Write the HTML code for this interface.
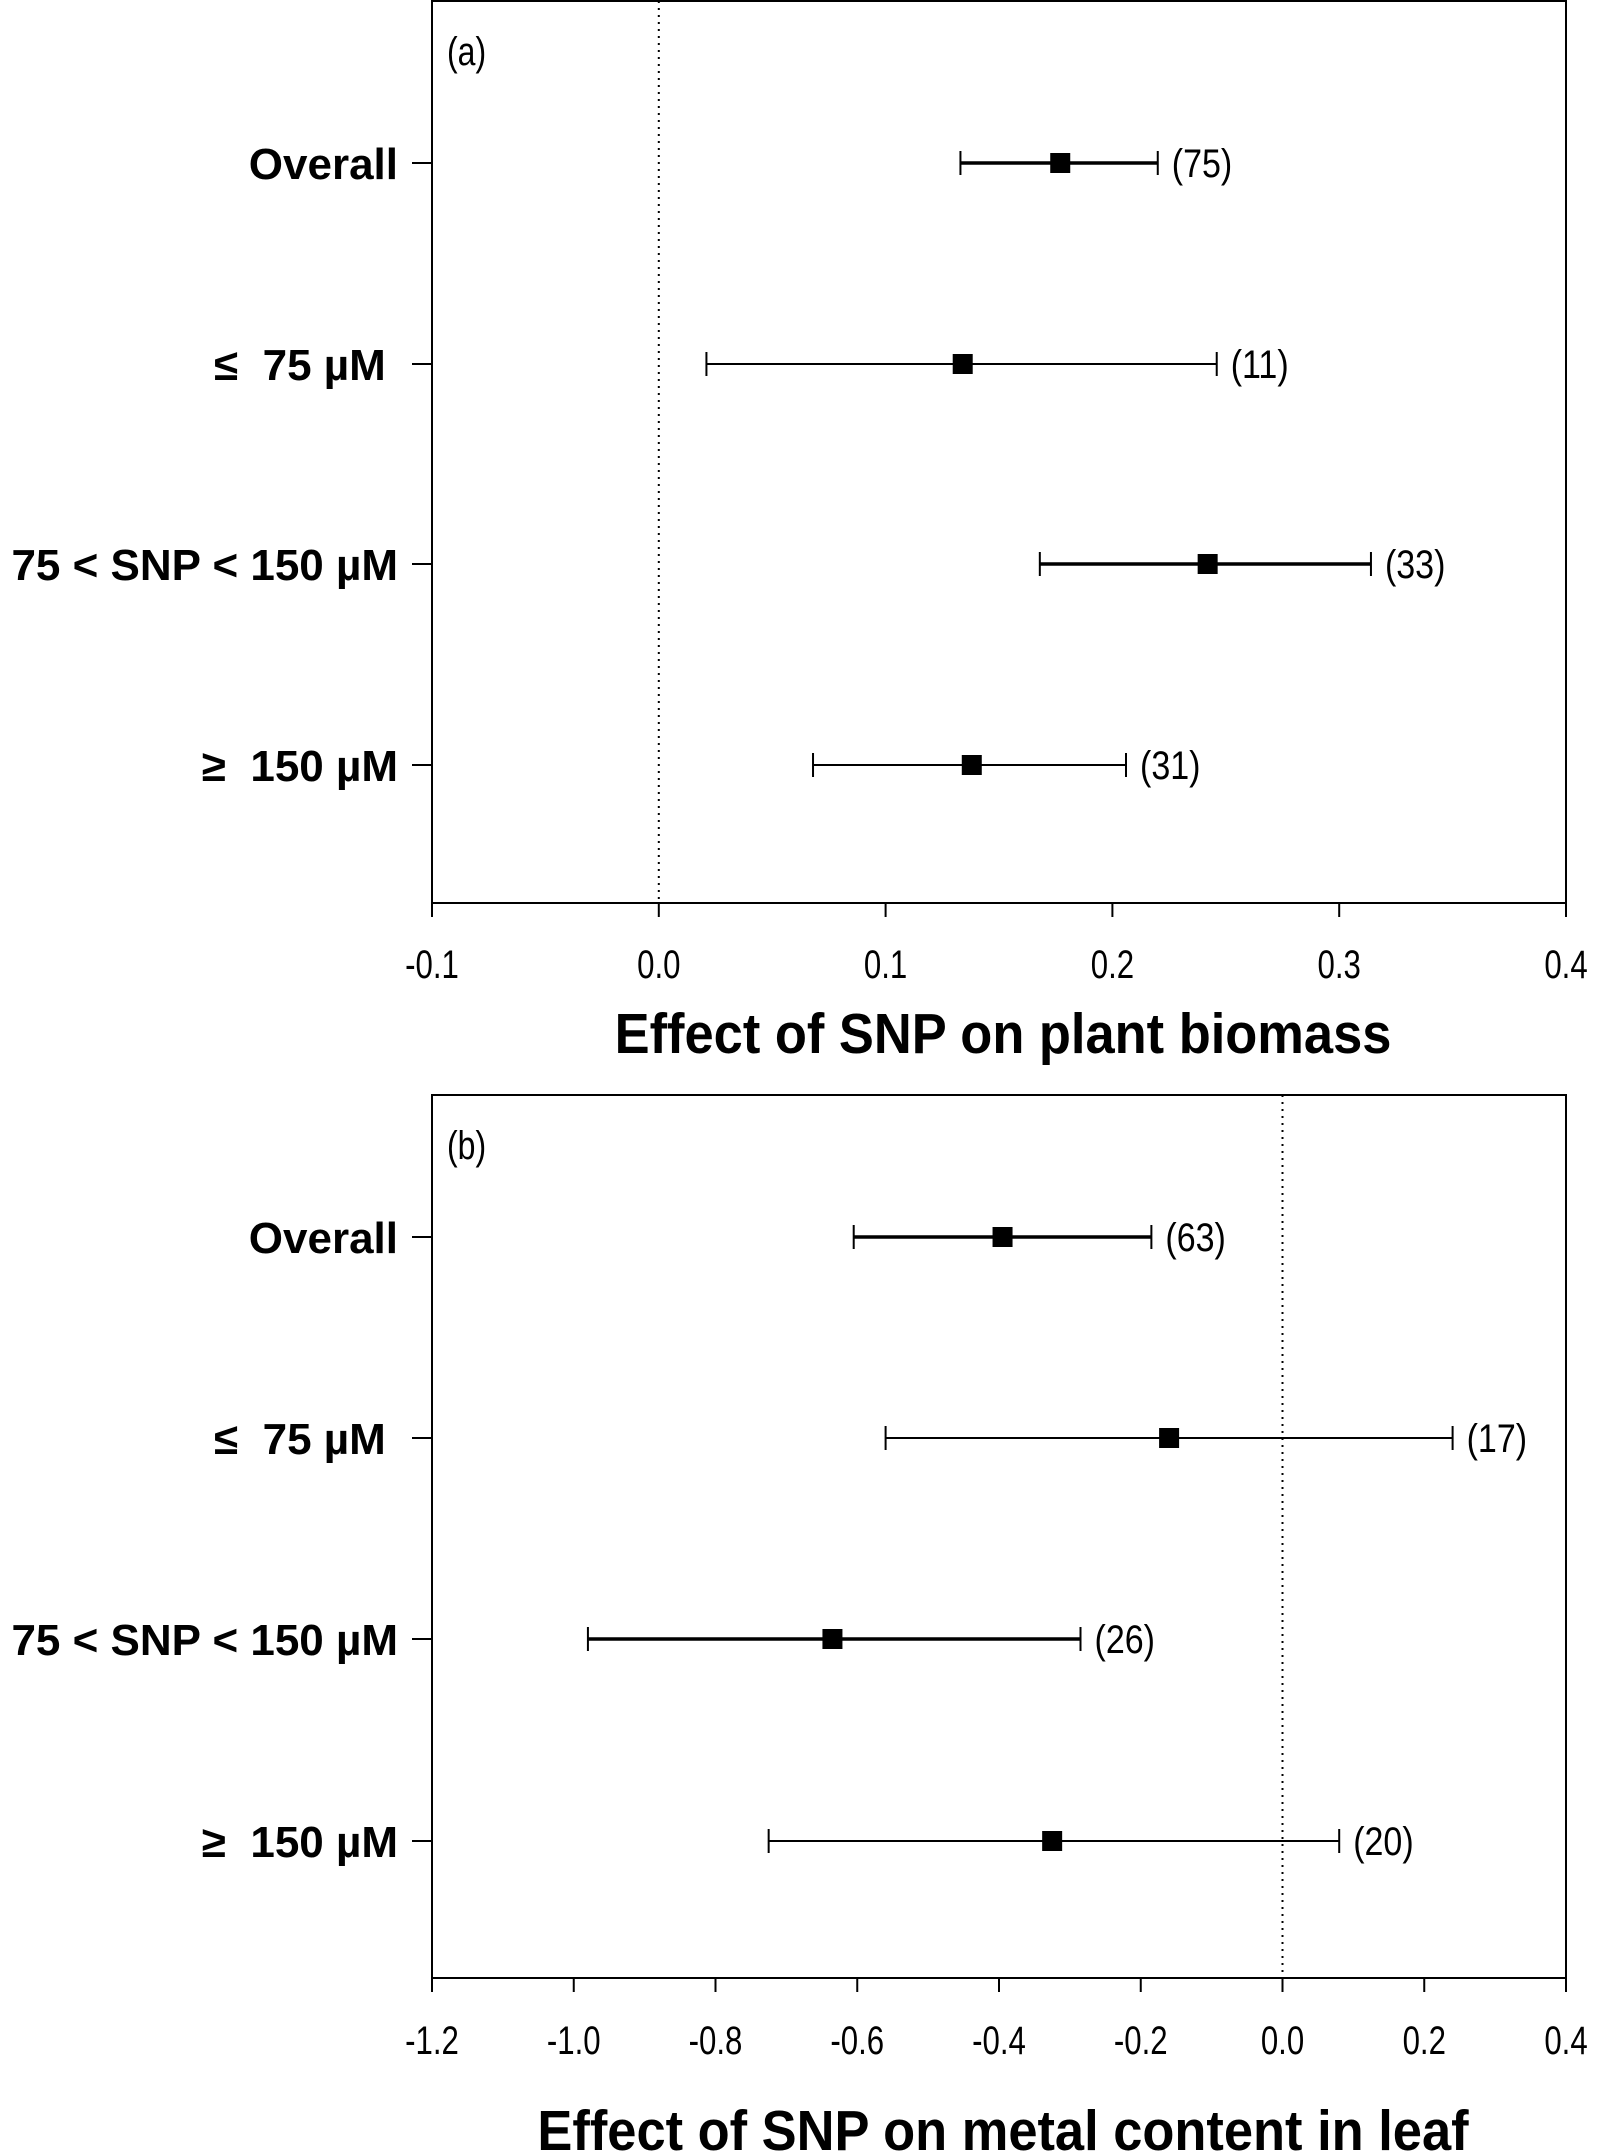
<!DOCTYPE html>
<html><head><meta charset="utf-8"><style>
html,body{margin:0;padding:0;background:#fff;}
svg{display:block;font-family:"Liberation Sans",sans-serif;}
text{white-space:pre;}
</style></head><body>
<svg id="chart" width="1606" height="2152" viewBox="0 0 1606 2152" xmlns="http://www.w3.org/2000/svg"></svg>
<script>
const categories = ["Overall", "≤  75 µM ", "75 < SNP < 150 µM", "≥  150 µM"];
const aMeans = [0.177, 0.134, 0.242, 0.138];
const aLow = [0.133, 0.021, 0.168, 0.068];
const aHigh = [0.220, 0.246, 0.314, 0.206];
const aCounts = ["(75)", "(11)", "(33)", "(31)"];
const aTicks = [-0.1, 0.0, 0.1, 0.2, 0.3, 0.4];
const bMeans = [-0.395, -0.160, -0.635, -0.325];
const bLow = [-0.605, -0.560, -0.980, -0.725];
const bHigh = [-0.185, 0.240, -0.285, 0.080];
const bCounts = ["(63)", "(17)", "(26)", "(20)"];
const bTicks = [-1.2, -1.0, -0.8, -0.6, -0.4, -0.2, 0.0, 0.2, 0.4];
const thick = [true, false, true, false];

const NS = "http://www.w3.org/2000/svg";
const svg = document.getElementById("chart");
function mk(tag, attrs, parent, txt) {
  const e = document.createElementNS(NS, tag);
  for (const k in attrs) e.setAttribute(k, attrs[k]);
  if (txt !== undefined) e.textContent = txt;
  (parent || svg).appendChild(e);
  return e;
}
function txt(parent, x, y, s, size, anchor, sx, bold) {
  return mk("text", {transform: `translate(${x},${y}) scale(${sx},1)`, "text-anchor": anchor, "font-size": size, "font-weight": bold ? "bold" : "normal"}, parent, s);
}

function panel(opt) {
  const g = mk("g", {});
  
  
  const L = 432, R = 1566, T = opt.top, B = opt.bottom;
  const x = v => L + (v - opt.min) / (opt.max - opt.min) * (R - L);
  const frame = mk("rect", {x: L, y: T, width: R - L, height: B - T, fill: "none", stroke: "#000", "stroke-width": 2}, g);
  
  
  const zl = mk("line", {x1: x(0), x2: x(0), y1: T, y2: B, stroke: "#000", "stroke-width": 2, "stroke-dasharray": "2,5"}, g);
  
  
  opt.ticks.forEach(t => {
    const tk = mk("line", {x1: x(t), x2: x(t), y1: B, y2: B + 14, stroke: "#000", "stroke-width": 2}, g);
    
    
    const tl = txt(g, x(t), opt.tickY, t.toFixed(1), 40, "middle", 0.78, false);
    
    
  });
  const at = txt(g, 1003, opt.titleY, opt.title, 57, "middle", 0.92, true);
  
  
  const pl = txt(g, 447, T + 64, opt.label, 40, "start", 0.8, false);
  
  
  categories.forEach((c, i) => {
    const y = opt.rows[i];
    const yt = mk("line", {x1: L - 20, x2: L, y1: y, y2: y, stroke: "#000", "stroke-width": 2}, g);
    
    
    const cl = txt(g, 398, y + 16, c, 44, "end", 1.0, true);
    
    
    const sw = thick[i] ? 3.5 : 2;
    const eb = mk("g", {}, g);
    
    
    mk("line", {x1: x(opt.low[i]), x2: x(opt.high[i]), y1: y, y2: y, stroke: "#000", "stroke-width": sw}, eb);
    mk("line", {x1: x(opt.low[i]), x2: x(opt.low[i]), y1: y - 12, y2: y + 12, stroke: "#000", "stroke-width": 2}, eb);
    mk("line", {x1: x(opt.high[i]), x2: x(opt.high[i]), y1: y - 12, y2: y + 12, stroke: "#000", "stroke-width": 2}, eb);
    const pt = mk("rect", {x: x(opt.means[i]) - 10, y: y - 10, width: 20, height: 20, fill: "#000"}, g);
    
    
    const n = txt(g, x(opt.high[i]) + 14, y + 14, opt.counts[i], 40, "start", 0.85, false);
    
    
  });
}

panel({name: "panel-a-plant-biomass", top: 1, bottom: 903, min: -0.1, max: 0.4, ticks: aTicks, tickY: 978, titleY: 1053,
  title: "Effect of SNP on plant biomass", label: "(a)", rows: [163, 364, 564, 765],
  means: aMeans, low: aLow, high: aHigh, counts: aCounts});
panel({name: "panel-b-metal-content", top: 1095, bottom: 1978, min: -1.2, max: 0.4, ticks: bTicks, tickY: 2054, titleY: 2150,
  title: "Effect of SNP on metal content in leaf", label: "(b)", rows: [1237, 1438, 1639, 1841],
  means: bMeans, low: bLow, high: bHigh, counts: bCounts});
</script>
</body></html>
